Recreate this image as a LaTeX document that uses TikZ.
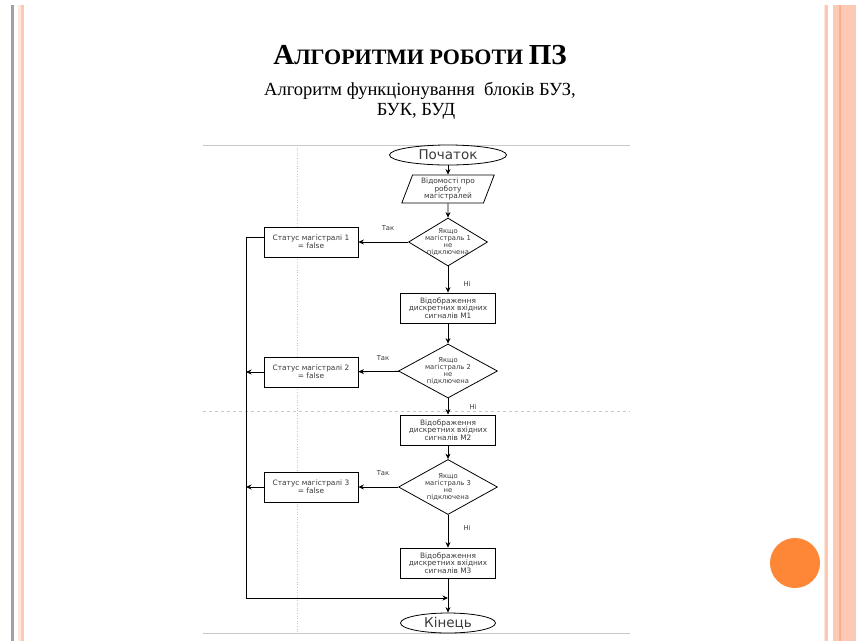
\documentclass[tikz,border=0pt]{standalone}
\usepackage{fontspec}
\setmainfont{Liberation Serif}
\newfontfamily\fcsans{DejaVu Sans}
\usetikzlibrary{shapes.geometric,arrows.meta}
\definecolor{peach}{HTML}{FCC9B5}
\definecolor{palepeach}{HTML}{FDE6DA}
\definecolor{deeppeach}{HTML}{FBAE8C}
\definecolor{bordergray}{HTML}{9EA3AA}
\definecolor{dotorange}{HTML}{FD8637}
\definecolor{guide}{HTML}{C8C8C8}
\definecolor{fctext}{HTML}{3A3A3A}
\tikzset{
  x=1pt,y=-1pt,
  fc/.style={draw=black,line width=0.8pt,fill=white,text=fctext,font=\fcsans\fontsize{7.4}{7.6}\selectfont,align=center,inner sep=1pt},
  procbox/.style={fc,rectangle,minimum width=94pt,minimum height=30pt},
  decis/.style={fc,diamond,inner sep=-10pt,font=\fcsans\fontsize{6.8}{7}\selectfont},
  term/.style={fc,ellipse,font=\fcsans\fontsize{13.5}{14}\selectfont,inner sep=0pt},
  io/.style={fc,trapezium,trapezium left angle=70,trapezium right angle=110,trapezium stretches=true,minimum width=93pt,minimum height=28pt,inner sep=0pt},
  flow/.style={draw=black,line width=0.8pt,-{Stealth[length=5.5pt,width=5pt]}},
  plain/.style={draw=black,line width=0.8pt},
  lbl/.style={text=fctext,font=\fcsans\fontsize{6.8}{7}\selectfont,inner sep=0pt},
  guideline/.style={draw=guide,line width=0.6pt}
}
\begin{document}
\begin{tikzpicture}
\useasboundingbox (0,0) rectangle (856,641);
\fill[white] (0,0) rectangle (856,641);
% slide borders
\fill[bordergray] (11,5) rectangle (13.5,641);
\fill[palepeach] (18,5) rectangle (20.5,641);
\fill[peach] (20.5,5) rectangle (24,641);
\fill[palepeach] (823.5,5) rectangle (825,641);
\fill[peach] (825,5) rectangle (827.5,641);
\fill[peach] (833,5) rectangle (856,641);
\fill[deeppeach] (839,5) rectangle (841,641);
\fill[dotorange] (795,563) circle (25);
% titles
\node (title) at (420,55) {\fontsize{29}{30}\selectfont\bfseries А\fontsize{22}{24}\selectfont ЛГОРИТМИ РОБОТИ \fontsize{29}{30}\selectfont ПЗ};
\node (sub1) at (420,91) {\fontsize{18.5}{20}\selectfont Алгоритм функціонування\ \ блоків БУЗ,};
\node (sub2) at (416,111) {\fontsize{18.5}{20}\selectfont БУК, БУД};
% guide lines
\draw[guideline] (203,145) -- (630,145);
\draw[guideline] (203,633) -- (630,633);
\draw[guideline,dotted] (297,145) -- (297,633);
\draw[guideline,dashed] (203,411) -- (630,411);
% nodes
\node[term,minimum width=117pt,minimum height=20pt] (start) at (448,155) {Початок};
\node[io] (info) at (448,189) {Відомості про\\роботу\\магістралей};
\node[decis,minimum width=79pt,minimum height=48pt] (d1) at (448,242) {Якщо\\магістраль 1\\не\\підключена};
\node[procbox] (s1) at (311,242) {Статус магістралі 1\\= false};
\node[procbox,minimum width=95pt] (m1) at (448,308) {Відображення\\дискретних вхідних\\сигналів М1};
\node[decis,minimum width=99pt,minimum height=54pt] (d2) at (448,371) {Якщо\\магістраль 2\\не\\підключена};
\node[procbox] (s2) at (311,372) {Статус магістралі 2\\= false};
\node[procbox,minimum width=95pt] (m2) at (448,430) {Відображення\\дискретних вхідних\\сигналів М2};
\node[decis,minimum width=99pt,minimum height=55pt] (d3) at (448,487) {Якщо\\магістраль 3\\не\\підключена};
\node[procbox] (s3) at (311,487) {Статус магістралі 3\\= false};
\node[procbox,minimum width=95pt] (m3) at (448,563) {Відображення\\дискретних вхідних\\сигналів М3};
\node[term,minimum width=95pt,minimum height=20pt] (end) at (448,623) {Кінець};
\coordinate (lt) at (246,237);
\coordinate (lb) at (246,598);
\coordinate (j) at (448,598);
\coordinate (l2) at (246,372);
\coordinate (l3) at (246,487);
% connectors
\draw[flow] (start) -- (info);
\draw[flow] (info) -- (d1);
\draw[flow] (d1) -- (s1);
\draw[flow] (d1) -- (m1);
\draw[flow] (m1) -- (d2);
\draw[flow] (d2) -- (s2);
\draw[flow] (d2) -- (m2);
\draw[flow] (m2) -- (d3);
\draw[flow] (d3) -- (s3);
\draw[flow] (d3) -- (m3);
\draw[flow] (m3) -- (end);
\draw[plain] (s1.west |- lt) -- (lt) -- (lb);
\draw[flow] (lb) -- (j);
\draw[flow] (s2) -- (l2);
\draw[flow] (s3) -- (l3);
% labels
\node[lbl] (t1) at (388,228) {Так};
\node[lbl] (n1) at (467,284) {Ні};
\node[lbl] (t2) at (383,358) {Так};
\node[lbl] (n2) at (473,407) {Ні};
\node[lbl] (t3) at (383,473) {Так};
\node[lbl] (n3) at (467,528) {Ні};
\end{tikzpicture}
\end{document}
